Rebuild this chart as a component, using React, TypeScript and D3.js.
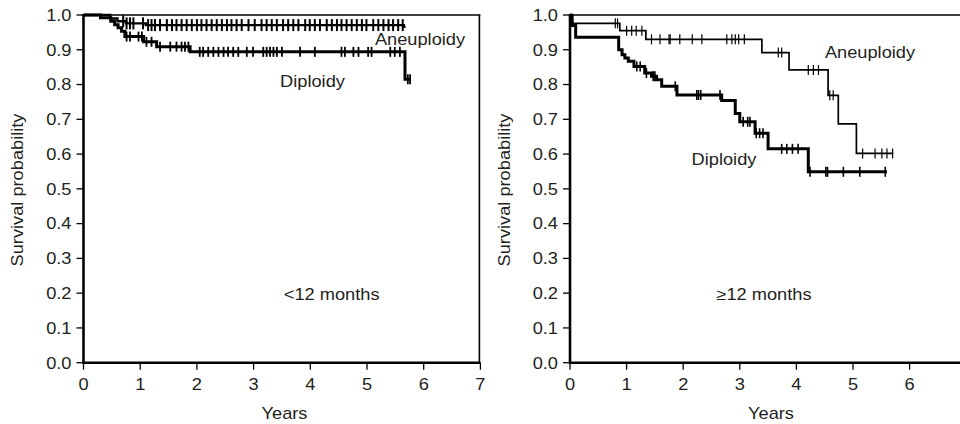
import React from 'react';
import * as d3 from 'd3';

// Chart size
const W = 960;
const H = 424;

// axis ticks
const yTicks = [0, 0.1, 0.2, 0.3, 0.4, 0.5, 0.6, 0.7, 0.8, 0.9, 1.0];
const xTicks = [0, 1, 2, 3, 4, 5, 6, 7];

// <12 months panel, aneuploidy (step times in years / survival)
const earlyAneuTimes = [0, 0.47, 0.6, 0.75, 1.1, 5.65];
const earlyAneuSurv = [1.0, 0.99, 0.982, 0.976, 0.971, 0.966];
const earlyAneuEnd = 5.68;
const earlyAneuCensor = [
  0.7, 0.76, 0.82, 0.88, 1.05, 1.14, 1.2, 1.26, 1.35, 1.47, 1.56, 1.64, 1.73, 1.82, 1.91,
  2.0, 2.08, 2.17, 2.26, 2.35, 2.44, 2.53, 2.61, 2.7, 2.79, 2.91, 3.02, 3.14, 3.23, 3.32,
  3.41, 3.52, 3.61, 3.7, 3.79, 3.91, 3.99, 4.08, 4.17, 4.29, 4.38, 4.47, 4.55, 4.64, 4.73,
  4.82, 4.91, 4.99, 5.11, 5.2, 5.29, 5.38, 5.46, 5.55, 5.63,
];

// <12 months panel, diploidy
const earlyDipTimes = [0, 0.3, 0.48, 0.55, 0.61, 0.67, 0.73, 1.06, 1.29, 1.88, 5.67];
const earlyDipSurv = [1.0, 0.992, 0.982, 0.972, 0.963, 0.953, 0.938, 0.923, 0.909, 0.894, 0.815];
const earlyDipEnd = 5.77;
const earlyDipCensor = [
  0.76, 0.82, 0.97, 1.03, 1.11, 1.2, 1.35, 1.53, 1.64, 1.73, 1.79, 1.85, 2.05, 2.11, 2.2,
  2.29, 2.38, 2.47, 2.55, 2.64, 2.73, 2.88, 2.99, 3.17, 3.23, 3.29, 3.35, 3.41, 3.5, 3.82,
  4.08, 4.55, 4.61, 4.76, 4.85, 5.02, 5.08, 5.41, 5.49, 5.58, 5.72, 5.76,
];

// >=12 months panel, aneuploidy
const lateAneuTimes = [0, 0.05, 0.88, 1.34, 3.39, 3.87, 4.56, 4.74, 5.06];
const lateAneuSurv = [1.0, 0.976, 0.955, 0.93, 0.892, 0.842, 0.769, 0.687, 0.602];
const lateAneuEnd = 5.71;
const lateAneuCensor = [
  0.8, 0.84, 1.0, 1.09, 1.17, 1.27, 1.44, 1.59, 1.75, 1.77, 1.94, 2.16, 2.33, 2.77, 2.86,
  2.92, 2.98, 3.08, 3.68, 3.74, 4.21, 4.3, 4.39, 4.59, 4.65, 5.17, 5.39, 5.51, 5.6, 5.7,
];

// >=12 months panel, diploidy
const lateDipTimes = [
  0, 0.02, 0.1, 0.86, 0.92, 0.97, 1.03, 1.13, 1.32, 1.44, 1.53, 1.62, 1.89, 2.68, 2.92, 3.0,
  3.27, 3.5, 4.21,
];
const lateDipSurv = [
  1.0, 0.97, 0.936, 0.9, 0.886, 0.876, 0.867, 0.852, 0.833, 0.824, 0.814, 0.795, 0.77, 0.754,
  0.717, 0.693, 0.66, 0.615, 0.549,
];
const lateDipEnd = 5.6;
const lateDipCensor = [
  1.18, 1.24, 1.35, 1.47, 1.5, 1.86, 2.24, 2.27, 2.31, 2.65, 3.06, 3.14, 3.18, 3.29, 3.35,
  3.41, 3.74, 3.83, 3.93, 4.03, 4.24, 4.52, 4.55, 4.83, 5.12, 5.57,
];

const INK = '#231f20';
const FONT = '"Liberation Sans", Arial, sans-serif';
const SX = 1.14; // the original type is set a bit wider than Arial

const yScale = d3.scaleLinear().domain([0, 1]).range([362.7, 15]);

const Txt = ({ x, y, anchor = 'middle', rotate = false, children }: any) => (
  <text
    transform={`translate(${x},${y})${rotate ? ' rotate(-90)' : ''} scale(${SX},1)`}
    textAnchor={anchor}
    fontFamily={FONT}
    fontSize={16}
    fill={INK}
  >
    {children}
  </text>
);

type Curve = {
  times: number[];
  surv: number[];
  end: number;
  censor: number[];
  width: number;
  tick: number;
  tickWidth: number;
};

const survAt = (c: Curve, t: number) => {
  const i = d3.bisectRight(c.times, t) - 1;
  return c.surv[Math.max(0, i)];
};

const Panel = ({ x0, x7, box, curves, labels }: any) => {
  const x = d3.scaleLinear().domain([0, 7]).range([x0, x7]);
  const y = yScale;
  const line = d3
    .line<[number, number]>()
    .x((d) => x(d[0]))
    .y((d) => y(d[1]))
    .curve(d3.curveStepAfter);
  const right = Math.min(x7, W + 5);

  return (
    <g>
      {/* frame */}
      <line x1={x0} x2={right} y1={y(1)} y2={y(1)} stroke="#000" strokeWidth={1.6} />
      {box && <line x1={x7 - 1} x2={x7 - 1} y1={y(1)} y2={y(0)} stroke="#000" strokeWidth={1.6} />}

      {/* curves */}
      {curves.map((c: Curve, i: number) => {
        const pts: [number, number][] = c.times.map((t, j) => [t, c.surv[j]]);
        pts.push([c.end, c.surv[c.surv.length - 1]]);
        return (
          <g key={i}>
            <path d={line(pts) || ''} fill="none" stroke="#000" strokeWidth={c.width} />
            {c.censor.map((t, j) => {
              const cy = y(survAt(c, t));
              return (
                <line
                  key={j}
                  x1={x(t)}
                  x2={x(t)}
                  y1={cy - c.tick}
                  y2={cy + c.tick}
                  stroke="#000"
                  strokeWidth={c.tickWidth}
                />
              );
            })}
          </g>
        );
      })}

      {/* axes */}
      <line x1={x0} x2={x0} y1={y(1) - 1} y2={y(0) + 1} stroke="#000" strokeWidth={2.6} />
      <line x1={x0 - 1} x2={right} y1={y(0)} y2={y(0)} stroke="#000" strokeWidth={2.6} />
      {yTicks.map((v) => (
        <g key={v}>
          <line x1={x0 - 7} x2={x0} y1={y(v)} y2={y(v)} stroke="#000" strokeWidth={1.3} />
          <Txt x={x0 - 12} y={y(v) + 5.8} anchor="end">
            {v.toFixed(1)}
          </Txt>
        </g>
      ))}
      {xTicks.map((v) => (
        <g key={v}>
          <line x1={x(v)} x2={x(v)} y1={y(0)} y2={y(0) + 7} stroke="#000" strokeWidth={1.3} />
          <Txt x={x(v)} y={390}>
            {v}
          </Txt>
        </g>
      ))}
      <Txt x={x0 + 201} y={418.5}>
        Years
      </Txt>
      <Txt x={x0 - 60.5} y={190} rotate>
        Survival probability
      </Txt>

      {labels.map((l: any) => (
        <Txt key={l.text} x={l.x} y={l.y}>
          {l.text}
        </Txt>
      ))}
    </g>
  );
};

export default function App() {
  const early: Curve[] = [
    { times: earlyAneuTimes, surv: earlyAneuSurv, end: earlyAneuEnd, censor: earlyAneuCensor, width: 2.4, tick: 6, tickWidth: 2 },
    { times: earlyDipTimes, surv: earlyDipSurv, end: earlyDipEnd, censor: earlyDipCensor, width: 3, tick: 5, tickWidth: 1.8 },
  ];
  const late: Curve[] = [
    { times: lateAneuTimes, surv: lateAneuSurv, end: lateAneuEnd, censor: lateAneuCensor, width: 1.7, tick: 5, tickWidth: 1.2 },
    { times: lateDipTimes, surv: lateDipSurv, end: lateDipEnd, censor: lateDipCensor, width: 3, tick: 5, tickWidth: 1.6 },
  ];

  return (
    <svg
      width={W}
      height={H}
      style={{ position: 'absolute', left: 0, top: 0, background: '#fff' }}
    >
      <Panel
        x0={83.5}
        x7={480.4}
        box
        curves={early}
        labels={[
          { text: 'Aneuploidy', x: 420, y: 45 },
          { text: 'Diploidy', x: 312.5, y: 86.7 },
          { text: '<12 months', x: 331.7, y: 300 },
        ]}
      />
      <Panel
        x0={570}
        x7={966.2}
        box={false}
        curves={late}
        labels={[
          { text: 'Aneuploidy', x: 870, y: 58.3 },
          { text: 'Diploidy', x: 724, y: 165 },
          { text: '≥12 months', x: 764, y: 300 },
        ]}
      />
    </svg>
  );
}
